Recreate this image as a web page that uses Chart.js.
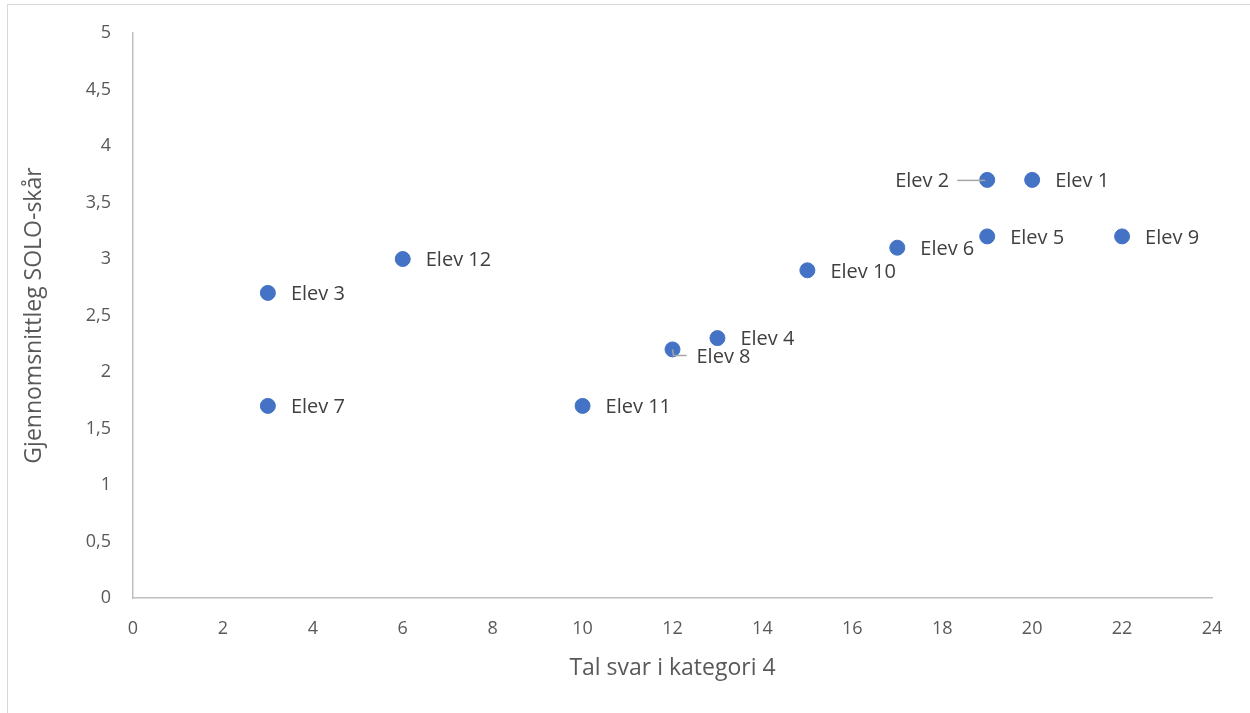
<!DOCTYPE html>
<html>
<head>
<meta charset="utf-8">
<script src="https://cdn.jsdelivr.net/npm/chart.js@4"></script>
<style>
  html, body { margin: 0; padding: 0; background: #fff; }
  #wrap { width: 1250px; height: 713px; position: relative; }
</style>
</head>
<body>
<div id="wrap"><canvas id="chart"></canvas></div>
<script>
const students = ['Elev 1', 'Elev 2', 'Elev 3', 'Elev 4', 'Elev 5', 'Elev 6',
                  'Elev 7', 'Elev 8', 'Elev 9', 'Elev 10', 'Elev 11', 'Elev 12'];
const answersCat4 = [20, 19, 3, 13, 19, 17, 3, 12, 22, 15, 10, 6];
const soloScore = [3.7, 3.7, 2.7, 2.3, 3.2, 3.1, 1.7, 2.2, 3.2, 2.9, 1.7, 3.0];

const xTicks = [0, 2, 4, 6, 8, 10, 12, 14, 16, 18, 20, 22, 24];
const yTicks = [0, 0.5, 1, 1.5, 2, 2.5, 3, 3.5, 4, 4.5, 5];

const FONT = "'Open Sans', sans-serif";
const TICK_COLOR = '#595959';
const AXIS_COLOR = '#bfbfbf';

// Labels next to the points, some moved by hand like in Excel (with leader lines)
const pointLabels = {
  id: 'pointLabels',
  afterDatasetsDraw(chart) {
    const ctx = chart.ctx;
    const meta = chart.getDatasetMeta(0);
    ctx.save();
    ctx.font = '20px ' + FONT;
    ctx.fillStyle = '#404040';
    ctx.textBaseline = 'middle';
    meta.data.forEach((pt, i) => {
      const name = students[i];
      const x = pt.x, y = pt.y;
      ctx.strokeStyle = '#a6a6a6';
      ctx.lineWidth = 1.5;
      if (name === 'Elev 2') {
        ctx.beginPath();
        ctx.moveTo(x - 30, y + 0.5);
        ctx.lineTo(x - 2, y + 0.5);
        ctx.stroke();
        ctx.textAlign = 'right';
        ctx.fillText(name, x - 38, y + 1);
      } else if (name === 'Elev 8') {
        ctx.beginPath();
        ctx.moveTo(x, y);
        ctx.lineTo(x + 1, y + 6);
        ctx.lineTo(x + 14, y + 6);
        ctx.stroke();
        ctx.textAlign = 'left';
        ctx.fillText(name, x + 24, y + 8);
      } else {
        ctx.textAlign = 'left';
        ctx.fillText(name, x + 23, y + 1.5);
      }
    });
    ctx.restore();
  }
};

// light frame around the whole chart
const frame = {
  id: 'frame',
  beforeDraw(chart) {
    const ctx = chart.ctx;
    ctx.save();
    ctx.strokeStyle = '#d9d9d9';
    ctx.lineWidth = 1;
    ctx.strokeRect(7.5, 4.5, 1260, 720);
    ctx.restore();
  }
};

new Chart(document.getElementById('chart'), {
  type: 'scatter',
  data: {
    datasets: [{
      label: 'SOLO',
      data: answersCat4.map((x, i) => ({ x: x, y: soloScore[i] })),
      backgroundColor: '#4472c4',
      borderColor: '#4472c4',
      pointRadius: 7.5,
      pointHoverRadius: 7.5
    }]
  },
  options: {
    responsive: true,
    maintainAspectRatio: false,
    animation: false,
    layout: { padding: { left: 0, right: 38, top: 33, bottom: 0 } },
    plugins: {
      legend: { display: false },
      tooltip: { enabled: false }
    },
    scales: {
      x: {
        type: 'linear',
        min: 0,
        max: 24,
        afterBuildTicks: (s) => { s.ticks = xTicks.map(v => ({ value: v })); },
        afterFit: (s) => { s.height = 115; },
        grid: { display: false, drawTicks: false },
        border: { color: AXIS_COLOR, width: 1.5 },
        ticks: { color: TICK_COLOR, font: { family: FONT, size: 18 }, padding: 20, maxRotation: 0 },
        title: {
          display: true,
          text: 'Tal svar i kategori 4',
          color: TICK_COLOR,
          font: { family: FONT, size: 23 },
          padding: { top: 0, bottom: 31 }
        }
      },
      y: {
        type: 'linear',
        min: 0,
        max: 5,
        afterBuildTicks: (s) => { s.ticks = yTicks.map(v => ({ value: v })); },
        afterFit: (s) => { s.width = 133; },
        grid: { display: false, drawTicks: false },
        border: { color: AXIS_COLOR, width: 1.5 },
        ticks: {
          color: TICK_COLOR,
          font: { family: FONT, size: 18 },
          padding: 22,
          callback: (v) => String(v).replace('.', ',')
        },
        title: {
          display: true,
          text: 'Gjennomsnittleg SOLO-skår',
          color: TICK_COLOR,
          font: { family: FONT, size: 23 },
          padding: { top: 21, bottom: 0 }
        }
      }
    }
  },
  plugins: [frame, pointLabels]
});
</script>
</body>
</html>
